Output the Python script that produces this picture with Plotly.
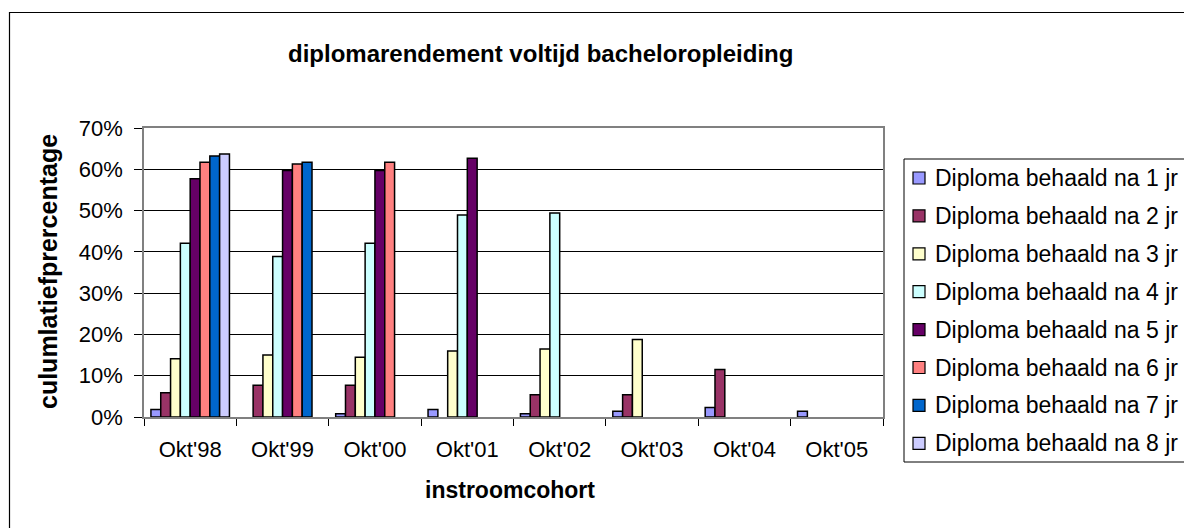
import plotly.graph_objects as go

categories = ["Okt'98", "Okt'99", "Okt'00", "Okt'01", "Okt'02", "Okt'03", "Okt'04", "Okt'05"]
series_names = ["Diploma behaald na 1 jr", "Diploma behaald na 2 jr", "Diploma behaald na 3 jr",
                "Diploma behaald na 4 jr", "Diploma behaald na 5 jr", "Diploma behaald na 6 jr",
                "Diploma behaald na 7 jr", "Diploma behaald na 8 jr"]
jr1 = [1.8, None, 0.8, 1.8, 0.8, 1.4, 2.3, 1.4]
jr2 = [5.9, 7.7, 7.7, None, 5.4, 5.4, 11.5, None]
jr3 = [14.1, 15.0, 14.5, 16.0, 16.5, 18.8, None, None]
jr4 = [42.1, 38.9, 42.1, 48.9, 49.4, None, None, None]
jr5 = [57.7, 59.7, 59.7, 62.7, None, None, None, None]
jr6 = [61.7, 61.3, 61.7, None, None, None, None, None]
jr7 = [63.2, 61.7, None, None, None, None, None, None]
jr8 = [63.7, None, None, None, None, None, None, None]
series_values = [jr1, jr2, jr3, jr4, jr5, jr6, jr7, jr8]
colors = ["#9999FF", "#993366", "#FFFFCC", "#CCFFFF", "#660066", "#FF8080", "#0066CC", "#CCCCFF"]
y_ticks = [0, 10, 20, 30, 40, 50, 60, 70]
y_ticktext = [f"{v}%" for v in y_ticks]

FONT = "Liberation Sans, Arial, sans-serif"
W, H = 1184, 528
L, R, T, B = 144, 883, 128, 417
pw, ph = R - L, B - T


def px(x):
    return (x - L) / pw


def py(y):
    return (B - y) / ph


fig = go.Figure()
for i, (name, vals, col) in enumerate(zip(series_names, series_values, colors)):
    fig.add_trace(go.Bar(
        x=categories, y=vals, name=name,
        marker=dict(color=col, line=dict(color="black", width=1.5)),
    ))

shapes = [
    # outer chart border (right and bottom edges fall outside the picture)
    dict(type="rect", xref="paper", yref="paper",
         x0=px(9.5), x1=px(1220), y0=py(570), y1=py(12.5),
         line=dict(color="black", width=1.2), fillcolor="rgba(0,0,0,0)", layer="below"),
    # legend box
    dict(type="rect", xref="paper", yref="paper",
         x0=px(904), x1=px(1230), y0=py(462), y1=py(159),
         line=dict(color="black", width=1), fillcolor="white", layer="below"),
]
annotations = [
    dict(text="<b>diplomarendement voltijd bacheloropleiding</b>", xref="paper", yref="paper",
         x=px(540), y=py(53), xanchor="center", yanchor="middle", showarrow=False,
         font=dict(family=FONT, size=24, color="black")),
    dict(text="<b>culumlatiefprercentage</b>", xref="paper", yref="paper",
         x=px(48), y=py(272), xanchor="center", yanchor="middle", textangle=-90,
         showarrow=False, font=dict(family=FONT, size=25, color="black")),
    dict(text="<b>instroomcohort</b>", xref="paper", yref="paper",
         x=px(510), y=py(490), xanchor="center", yanchor="middle", showarrow=False,
         font=dict(family=FONT, size=23, color="black")),
]

row0, row_step = 178.0, 37.9
for i, (name, col) in enumerate(zip(series_names, colors)):
    yc = row0 + i * row_step
    shapes.append(dict(type="rect", xref="paper", yref="paper",
                       x0=px(913), x1=px(925), y0=py(yc + 6), y1=py(yc - 6),
                       line=dict(color="black", width=1.2), fillcolor=col))
    annotations.append(dict(text=name, xref="paper", yref="paper",
                            x=px(933), y=py(yc), xanchor="left", yanchor="middle",
                            showarrow=False, font=dict(family=FONT, size=23, color="black")))

fig.update_layout(
    width=W, height=H,
    margin=dict(l=L, r=W - R, t=T, b=H - B, autoexpand=False),
    paper_bgcolor="white", plot_bgcolor="white",
    barmode="group", bargap=0.15, bargroupgap=0,
    font=dict(family=FONT, color="black", size=22),
    showlegend=False,
    xaxis=dict(
        type="category", showgrid=False, ticks="outside", tickson="boundaries",
        ticklen=7, tickcolor="black", showline=True, linecolor="#808080", linewidth=1.5,
        mirror=True, tickfont=dict(size=22), ticklabelstandoff=12,
    ),
    yaxis=dict(
        range=[0, 70], tickvals=y_ticks, ticktext=y_ticktext, showgrid=True,
        gridcolor="black", gridwidth=1, ticks="outside", ticklen=8, tickcolor="black",
        showline=True, linecolor="#808080", linewidth=1.5, mirror=True,
        tickfont=dict(size=22), ticklabelstandoff=7, zeroline=False,
    ),
    shapes=shapes,
    annotations=annotations,
)

fig.write_html("out.html", config={"displayModeBar": False},
               post_script="document.body.style.margin='0';")
